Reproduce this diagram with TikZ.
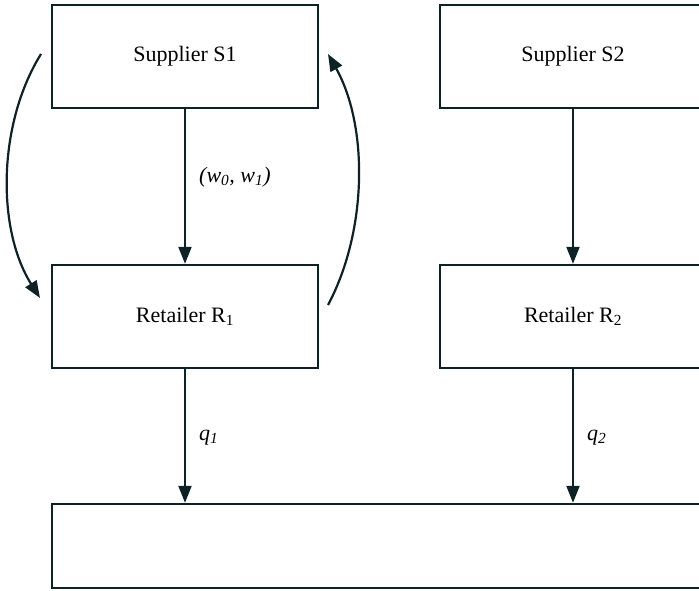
\documentclass[tikz,border=0pt]{standalone}
\usepackage{fontspec}
\setmainfont{Liberation Serif}
\usetikzlibrary{arrows.meta}
\definecolor{ink}{RGB}{14,34,38}
\tikzset{
  box/.style={draw=ink, line width=2.4pt, rectangle, inner sep=0pt, font=\fontsize{22}{26}\selectfont},
  flow/.style={draw=ink, line width=2.2pt, -{Triangle[length=17pt,width=13pt]}},
  lbl/.style={anchor=west, inner sep=0pt, font=\fontsize{22}{26}\selectfont\itshape}
}
\begin{document}
\begin{tikzpicture}[x=1pt,y=-1pt]
\useasboundingbox (0,0) rectangle (699,590);
\clip (0,0) rectangle (699,590);
\node[box, minimum width=266pt, minimum height=103pt] (s1) at (185,56.5) {Supplier S1};
\node[box, minimum width=266pt, minimum height=103pt] (s2) at (573,56.5) {Supplier S2};
\node[box, minimum width=266pt, minimum height=103pt] (r1) at (185,316.5) {Retailer R\textsubscript{1}};
\node[box, minimum width=266pt, minimum height=103pt] (r2) at (573,316.5) {Retailer R\textsubscript{2}};
\node[box, minimum width=760pt, minimum height=84pt] (m) at (432,546) {};
\draw[flow] (s1.south) -- (r1.north);
\draw[flow] (s2.south) -- (r2.north);
\draw[flow] (r1.south) -- (r1.south |- m.north);
\draw[flow] (r2.south) -- (r2.south |- m.north);
\coordinate (la) at (41,54);
\coordinate (lb) at (40,298);
\coordinate (ra) at (328,305);
\coordinate (rb) at (328,54);
\draw[flow] (la) .. controls (-3,125) and (-3,230) .. (lb);
\draw[flow] (ra) .. controls (368,230) and (368,125) .. (rb);
\node[lbl] (w) at (199,177) {(w\textsubscript{0}, w\textsubscript{1})};
\node[lbl] (q1) at (199,438) {q\textsubscript{1}};
\node[lbl] (q2) at (587,438) {q\textsubscript{2}};
\end{tikzpicture}
\end{document}
